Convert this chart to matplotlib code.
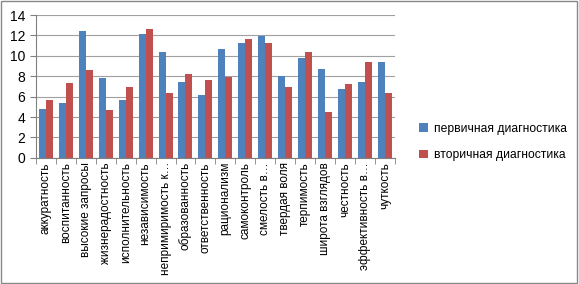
import matplotlib
matplotlib.use('Agg')
import numpy as np
from matplotlib import pyplot as plt
from matplotlib.patches import Rectangle

plt.rcParams['font.family'] = ['Liberation Sans', 'DejaVu Sans']

# качества личности
categories = ['аккуратность', 'воспитанность', 'высокие запросы', 'жизнерадостность',
              'исполнительность', 'независимость', 'непримиримость к…', 'образованность',
              'ответственность', 'рационализм', 'самоконтроль', 'смелость в…',
              'твердая воля', 'терпимость', 'широта взглядов', 'честность',
              'эффективность в…', 'чуткость']
first = [4.8, 5.4, 12.4, 7.8, 5.7, 12.1, 10.4, 7.4, 6.2, 10.7, 11.3, 11.9, 8.0, 9.8, 8.7, 6.8, 7.4, 9.4]
second = [5.7, 7.3, 8.6, 4.7, 6.9, 12.6, 6.4, 8.2, 7.6, 7.9, 11.7, 11.3, 6.9, 10.4, 4.5, 7.2, 9.4, 6.4]
series_names = ['первичная диагностика', 'вторичная диагностика']
yticks = [0, 2, 4, 6, 8, 10, 12, 14]

fig = plt.figure(figsize=(5.79, 2.84), dpi=100)
ax = fig.add_axes([0.062, 0.444, 0.62, 0.503])

x = np.arange(len(categories))
w = 0.35
ax.bar(x - w / 2, first, w, color='#4F81BD', label=series_names[0], zorder=3)
ax.bar(x + w / 2, second, w, color='#C0504D', label=series_names[1], zorder=3)

ax.set_xlim(-0.5, len(categories) - 0.5)
ax.set_ylim(0, 14)
ax.set_yticks(yticks)
ax.yaxis.grid(True, color='#A0A0A0', linewidth=0.8, zorder=0)
ax.set_xticks(x)
ax.set_xticklabels(categories, rotation=90, fontsize=8.5)
ax.set_xticks(np.arange(len(categories) + 1) - 0.5, minor=True)
ax.tick_params(axis='x', which='major', length=0, pad=3)
ax.tick_params(axis='x', which='minor', length=4, color='#808080')
ax.tick_params(axis='y', length=4, color='#808080', labelsize=10)
for s in ['top', 'right']:
    ax.spines[s].set_visible(False)
for s in ['left', 'bottom']:
    ax.spines[s].set_color('#808080')

fig.legend(loc='center left', bbox_to_anchor=(0.705, 0.50), frameon=False,
           fontsize=8.7, handlelength=0.7, handleheight=0.7, handletextpad=0.5,
           labelspacing=1.2)

fig.patches.append(Rectangle((0.002, 0.004), 0.995, 0.992, transform=fig.transFigure,
                             fill=False, edgecolor='#888888', linewidth=1))

fig.savefig('out.png', dpi=100)
